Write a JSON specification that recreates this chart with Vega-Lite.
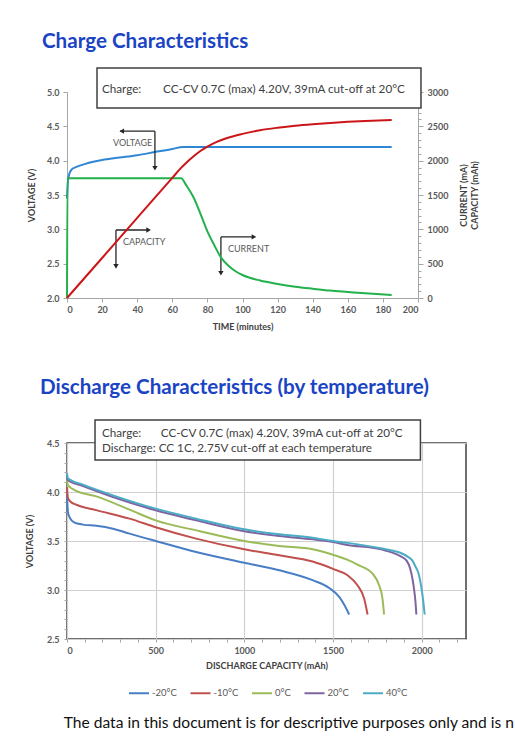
{
  "$schema": "https://vega.github.io/schema/vega-lite/v6.json",
  "padding": {"left": 24, "top": 31, "right": 0, "bottom": 0},
  "spacing": 45,
  "resolve": {"scale": {"color": "independent"}, "legend": {"color": "independent"}},
  "config": {
    "font": "Lato",
    "view": {"stroke": null},
    "axis": {"labelFont": "Lato", "titleFont": "Lato", "labelOverlap": false, "tickCount": 100}
  },
  "title": {
    "text": "The data in this document is for descriptive purposes only and is n",
    "orient": "bottom",
    "anchor": "start",
    "frame": "bounds",
    "dx": 39,
    "offset": 17,
    "fontSize": 15.6,
    "fontWeight": "normal",
    "color": "#111111"
  },
  "datasets": {
    "voltage": [
      {"series": "VOLTAGE", "t": 0, "v": 3.45},
      {"series": "VOLTAGE", "t": 0.5, "v": 3.7},
      {"series": "VOLTAGE", "t": 1.5, "v": 3.82},
      {"series": "VOLTAGE", "t": 3, "v": 3.88},
      {"series": "VOLTAGE", "t": 5, "v": 3.905},
      {"series": "VOLTAGE", "t": 10, "v": 3.95},
      {"series": "VOLTAGE", "t": 15, "v": 3.985},
      {"series": "VOLTAGE", "t": 20, "v": 4.01},
      {"series": "VOLTAGE", "t": 30, "v": 4.045},
      {"series": "VOLTAGE", "t": 40, "v": 4.08},
      {"series": "VOLTAGE", "t": 50, "v": 4.125},
      {"series": "VOLTAGE", "t": 60, "v": 4.17},
      {"series": "VOLTAGE", "t": 66, "v": 4.2},
      {"series": "VOLTAGE", "t": 185, "v": 4.2}
    ],
    "chargeMA": [
      {"series": "CURRENT", "t": 0, "mA": 0},
      {"series": "CURRENT", "t": 0.3, "mA": 1745},
      {"series": "CURRENT", "t": 65, "mA": 1745},
      {"series": "CURRENT", "t": 68, "mA": 1640},
      {"series": "CURRENT", "t": 72, "mA": 1470},
      {"series": "CURRENT", "t": 76, "mA": 1230},
      {"series": "CURRENT", "t": 80, "mA": 970},
      {"series": "CURRENT", "t": 84, "mA": 765},
      {"series": "CURRENT", "t": 88, "mA": 580},
      {"series": "CURRENT", "t": 92, "mA": 470},
      {"series": "CURRENT", "t": 96, "mA": 390},
      {"series": "CURRENT", "t": 100, "mA": 335},
      {"series": "CURRENT", "t": 110, "mA": 255},
      {"series": "CURRENT", "t": 120, "mA": 205},
      {"series": "CURRENT", "t": 130, "mA": 165},
      {"series": "CURRENT", "t": 140, "mA": 135},
      {"series": "CURRENT", "t": 150, "mA": 108},
      {"series": "CURRENT", "t": 160, "mA": 88},
      {"series": "CURRENT", "t": 170, "mA": 68},
      {"series": "CURRENT", "t": 185, "mA": 44},
      {"series": "CAPACITY", "t": 0, "mA": 0},
      {"series": "CAPACITY", "t": 20, "mA": 583},
      {"series": "CAPACITY", "t": 40, "mA": 1167},
      {"series": "CAPACITY", "t": 60, "mA": 1750},
      {"series": "CAPACITY", "t": 65, "mA": 1895},
      {"series": "CAPACITY", "t": 68, "mA": 1970},
      {"series": "CAPACITY", "t": 72, "mA": 2060},
      {"series": "CAPACITY", "t": 76, "mA": 2140},
      {"series": "CAPACITY", "t": 80, "mA": 2205},
      {"series": "CAPACITY", "t": 85, "mA": 2270},
      {"series": "CAPACITY", "t": 90, "mA": 2320},
      {"series": "CAPACITY", "t": 100, "mA": 2390},
      {"series": "CAPACITY", "t": 110, "mA": 2443},
      {"series": "CAPACITY", "t": 120, "mA": 2480},
      {"series": "CAPACITY", "t": 130, "mA": 2510},
      {"series": "CAPACITY", "t": 140, "mA": 2532},
      {"series": "CAPACITY", "t": 150, "mA": 2550},
      {"series": "CAPACITY", "t": 160, "mA": 2565},
      {"series": "CAPACITY", "t": 170, "mA": 2578},
      {"series": "CAPACITY", "t": 185, "mA": 2592}
    ],
    "box1": [{"t": 17.1, "t2": 201.7, "v": 5.35, "v2": 4.767}],
    "box1text": [
      {"t": 19.9, "v": 5.05, "label": "Charge:"},
      {"t": 54.7, "v": 5.05, "label": "CC-CV 0.7C (max) 4.20V, 39mA cut-off at 20°C"}
    ],
    "arrows1": [
      {"t": 30.2, "t2": 50.1, "v": 4.43, "v2": 4.43},
      {"t": 50.1, "t2": 50.1, "v": 4.43, "v2": 3.88},
      {"t": 27.9, "t2": 46.5, "v": 2.99, "v2": 2.99},
      {"t": 27.9, "t2": 27.9, "v": 2.99, "v2": 2.45},
      {"t": 87.7, "t2": 106.5, "v": 2.89, "v2": 2.89},
      {"t": 87.7, "t2": 87.7, "v": 2.89, "v2": 2.35}
    ],
    "heads1": [
      {"t": 31.2, "v": 4.43, "dir": "left"},
      {"t": 50.1, "v": 3.89, "dir": "down"},
      {"t": 46.5, "v": 2.99, "dir": "right"},
      {"t": 27.9, "v": 2.46, "dir": "down"},
      {"t": 106.5, "v": 2.89, "dir": "right"},
      {"t": 87.7, "v": 2.36, "dir": "down"}
    ],
    "labels1": [
      {"t": 26.2, "v": 4.26, "label": "VOLTAGE"},
      {"t": 31.9, "v": 2.81, "label": "CAPACITY"},
      {"t": 91.7, "v": 2.71, "label": "CURRENT"}
    ],
    "discharge": [
      {"temp": "-20°C", "cap": 0, "volt": 3.98},
      {"temp": "-20°C", "cap": 5, "volt": 3.8},
      {"temp": "-20°C", "cap": 15, "volt": 3.74},
      {"temp": "-20°C", "cap": 40, "volt": 3.69},
      {"temp": "-20°C", "cap": 90, "volt": 3.667},
      {"temp": "-20°C", "cap": 165, "volt": 3.655},
      {"temp": "-20°C", "cap": 259, "volt": 3.626},
      {"temp": "-20°C", "cap": 353, "volt": 3.575},
      {"temp": "-20°C", "cap": 500, "volt": 3.5},
      {"temp": "-20°C", "cap": 728, "volt": 3.388},
      {"temp": "-20°C", "cap": 1000, "volt": 3.279},
      {"temp": "-20°C", "cap": 1197, "volt": 3.201},
      {"temp": "-20°C", "cap": 1385, "volt": 3.1},
      {"temp": "-20°C", "cap": 1479, "volt": 3.02},
      {"temp": "-20°C", "cap": 1535, "volt": 2.93},
      {"temp": "-20°C", "cap": 1565, "volt": 2.845},
      {"temp": "-20°C", "cap": 1591, "volt": 2.75},
      {"temp": "-10°C", "cap": 0, "volt": 4.05},
      {"temp": "-10°C", "cap": 5, "volt": 3.94},
      {"temp": "-10°C", "cap": 20, "volt": 3.9},
      {"temp": "-10°C", "cap": 53, "volt": 3.87},
      {"temp": "-10°C", "cap": 165, "volt": 3.815},
      {"temp": "-10°C", "cap": 353, "volt": 3.728},
      {"temp": "-10°C", "cap": 500, "volt": 3.64},
      {"temp": "-10°C", "cap": 728, "volt": 3.524},
      {"temp": "-10°C", "cap": 1000, "volt": 3.415},
      {"temp": "-10°C", "cap": 1197, "volt": 3.354},
      {"temp": "-10°C", "cap": 1385, "volt": 3.29},
      {"temp": "-10°C", "cap": 1500, "volt": 3.215},
      {"temp": "-10°C", "cap": 1582, "volt": 3.15},
      {"temp": "-10°C", "cap": 1638, "volt": 3.048},
      {"temp": "-10°C", "cap": 1676, "volt": 2.911},
      {"temp": "-10°C", "cap": 1695, "volt": 2.75},
      {"temp": "0°C", "cap": 0, "volt": 4.12},
      {"temp": "0°C", "cap": 5, "volt": 4.07},
      {"temp": "0°C", "cap": 43, "volt": 4.02},
      {"temp": "0°C", "cap": 165, "volt": 3.955},
      {"temp": "0°C", "cap": 353, "volt": 3.82},
      {"temp": "0°C", "cap": 500, "volt": 3.71},
      {"temp": "0°C", "cap": 750, "volt": 3.6},
      {"temp": "0°C", "cap": 1000, "volt": 3.5},
      {"temp": "0°C", "cap": 1197, "volt": 3.449},
      {"temp": "0°C", "cap": 1385, "volt": 3.415},
      {"temp": "0°C", "cap": 1500, "volt": 3.36},
      {"temp": "0°C", "cap": 1580, "volt": 3.31},
      {"temp": "0°C", "cap": 1638, "volt": 3.259},
      {"temp": "0°C", "cap": 1723, "volt": 3.167},
      {"temp": "0°C", "cap": 1760, "volt": 3.048},
      {"temp": "0°C", "cap": 1779, "volt": 2.911},
      {"temp": "0°C", "cap": 1788, "volt": 2.75},
      {"temp": "20°C", "cap": 0, "volt": 4.15},
      {"temp": "20°C", "cap": 5, "volt": 4.12},
      {"temp": "20°C", "cap": 90, "volt": 4.061},
      {"temp": "20°C", "cap": 259, "volt": 3.949},
      {"temp": "20°C", "cap": 500, "volt": 3.813},
      {"temp": "20°C", "cap": 728, "volt": 3.711},
      {"temp": "20°C", "cap": 1000, "volt": 3.599},
      {"temp": "20°C", "cap": 1197, "volt": 3.551},
      {"temp": "20°C", "cap": 1385, "volt": 3.517},
      {"temp": "20°C", "cap": 1500, "volt": 3.49},
      {"temp": "20°C", "cap": 1573, "volt": 3.462},
      {"temp": "20°C", "cap": 1770, "volt": 3.415},
      {"temp": "20°C", "cap": 1880, "volt": 3.345},
      {"temp": "20°C", "cap": 1915, "volt": 3.3},
      {"temp": "20°C", "cap": 1935, "volt": 3.22},
      {"temp": "20°C", "cap": 1948, "volt": 3.115},
      {"temp": "20°C", "cap": 1957, "volt": 3.01},
      {"temp": "20°C", "cap": 1965, "volt": 2.88},
      {"temp": "20°C", "cap": 1970, "volt": 2.75},
      {"temp": "40°C", "cap": 0, "volt": 4.19},
      {"temp": "40°C", "cap": 5, "volt": 4.14},
      {"temp": "40°C", "cap": 90, "volt": 4.075},
      {"temp": "40°C", "cap": 259, "volt": 3.966},
      {"temp": "40°C", "cap": 500, "volt": 3.83},
      {"temp": "40°C", "cap": 728, "volt": 3.728},
      {"temp": "40°C", "cap": 1000, "volt": 3.619},
      {"temp": "40°C", "cap": 1197, "volt": 3.568},
      {"temp": "40°C", "cap": 1385, "volt": 3.534},
      {"temp": "40°C", "cap": 1500, "volt": 3.5},
      {"temp": "40°C", "cap": 1573, "volt": 3.483},
      {"temp": "40°C", "cap": 1770, "volt": 3.425},
      {"temp": "40°C", "cap": 1892, "volt": 3.37},
      {"temp": "40°C", "cap": 1925, "volt": 3.335},
      {"temp": "40°C", "cap": 1948, "volt": 3.3},
      {"temp": "40°C", "cap": 1962, "volt": 3.25},
      {"temp": "40°C", "cap": 1982, "volt": 3.17},
      {"temp": "40°C", "cap": 1998, "volt": 3.03},
      {"temp": "40°C", "cap": 2008, "volt": 2.9},
      {"temp": "40°C", "cap": 2017, "volt": 2.75}
    ],
    "box2": [{"cap": 158, "cap2": 1993, "volt": 4.735, "volt2": 4.327}],
    "box2text": [
      {"cap": 197, "volt": 4.602, "label": "Charge:"},
      {"cap": 529, "volt": 4.602, "label": "CC-CV 0.7C (max) 4.20V, 39mA cut-off at 20°C"},
      {"cap": 197, "volt": 4.449, "label": "Discharge: CC 1C, 2.75V cut-off at each temperature"}
    ]
  },
  "vconcat": [
    {
      "width": 351,
      "height": 206,
      "title": {
        "text": "Charge Characteristics",
        "anchor": "start",
        "frame": "group",
        "dx": -25,
        "offset": 15,
        "fontSize": 20.6,
        "fontWeight": "bold",
        "color": "#1A44C4"
      },
      "layer": [
        {
          "layer": [
            {
              "data": {"name": "voltage"},
              "mark": {"type": "line", "strokeWidth": 2, "interpolate": "monotone"},
              "encoding": {
                "x": {
                  "field": "t", "type": "quantitative",
                  "scale": {"domain": [0, 200], "nice": false, "zero": false},
                  "axis": {
                    "title": "TIME (minutes)",
                    "values": [0, 20, 40, 60, 80, 100, 120, 140, 160, 180, 200],
                    "grid": false,
                    "domainColor": "#a6a6a6", "tickColor": "#a6a6a6", "tickSize": 4,
                    "labelFontSize": 9, "labelFontWeight": "bold", "labelColor": "#595959",
                    "labelPadding": 3,
                    "titleFontSize": 9, "titleFontWeight": "bold", "titleColor": "#404040",
                    "titlePadding": 8
                  }
                },
                "y": {
                  "field": "v", "type": "quantitative",
                  "scale": {"domain": [2, 5], "nice": false, "zero": false},
                  "axis": {
                    "title": "VOLTAGE (V)",
                    "values": [2, 2.5, 3, 3.5, 4, 4.5, 5],
                    "format": ".1f",
                    "grid": false,
                    "domainColor": "#a6a6a6", "tickColor": "#a6a6a6", "tickSize": 4,
                    "labelFontSize": 9, "labelFontWeight": "bold", "labelColor": "#595959",
                    "labelPadding": 4,
                    "titleFontSize": 9, "titleFontWeight": "bold", "titleColor": "#404040",
                    "titlePadding": 10
                  }
                },
                "color": {
                  "field": "series", "type": "nominal",
                  "scale": {"domain": ["VOLTAGE", "CURRENT", "CAPACITY"], "range": ["#2F86D4", "#22B14C", "#CC1518"]},
                  "legend": null
                }
              }
            },
            {
              "data": {"name": "box1"},
              "mark": {"type": "rect", "fill": "#7f7f7f", "opacity": 0.35, "xOffset": 3, "yOffset": 3},
              "encoding": {
                "x": {"field": "t", "type": "quantitative"},
                "x2": {"field": "t2"},
                "y": {"field": "v", "type": "quantitative"},
                "y2": {"field": "v2"}
              }
            },
            {
              "data": {"name": "box1"},
              "mark": {"type": "rect", "fill": "white", "stroke": "#404040", "strokeWidth": 1.5},
              "encoding": {
                "x": {"field": "t", "type": "quantitative"},
                "x2": {"field": "t2"},
                "y": {"field": "v", "type": "quantitative"},
                "y2": {"field": "v2"}
              }
            },
            {
              "data": {"name": "box1text"},
              "mark": {"type": "text", "align": "left", "baseline": "middle", "fontSize": 11.7, "color": "#404040"},
              "encoding": {
                "x": {"field": "t", "type": "quantitative"},
                "y": {"field": "v", "type": "quantitative"},
                "text": {"field": "label"}
              }
            },
            {
              "data": {"name": "arrows1"},
              "mark": {"type": "rule", "color": "#262626", "strokeWidth": 1.3},
              "encoding": {
                "x": {"field": "t", "type": "quantitative"},
                "x2": {"field": "t2"},
                "y": {"field": "v", "type": "quantitative"},
                "y2": {"field": "v2"}
              }
            },
            {
              "data": {"name": "heads1"},
              "mark": {"type": "point", "filled": true, "color": "#262626", "size": 28, "opacity": 1},
              "encoding": {
                "x": {"field": "t", "type": "quantitative"},
                "y": {"field": "v", "type": "quantitative"},
                "shape": {
                  "field": "dir", "type": "nominal",
                  "scale": {"domain": ["left", "right", "down"], "range": ["triangle-left", "triangle-right", "triangle-down"]},
                  "legend": null
                }
              }
            },
            {
              "data": {"name": "labels1"},
              "mark": {"type": "text", "align": "left", "baseline": "middle", "fontSize": 9, "color": "#595959"},
              "encoding": {
                "x": {"field": "t", "type": "quantitative"},
                "y": {"field": "v", "type": "quantitative"},
                "text": {"field": "label"}
              }
            }
          ]
        },
        {
          "data": {"name": "chargeMA"},
          "mark": {"type": "line", "strokeWidth": 2, "interpolate": "monotone"},
          "encoding": {
            "x": {"field": "t", "type": "quantitative"},
            "y": {
              "field": "mA", "type": "quantitative",
              "scale": {"domain": [0, 3000], "nice": false},
              "axis": {
                "orient": "right",
                "title": ["CURRENT (mA)", "CAPACITY (mAh)"],
                "titleAngle": 270,
                "values": [0, 100, 200, 300, 400, 500, 600, 700, 800, 900, 1000, 1100, 1200, 1300, 1400, 1500, 1600, 1700, 1800, 1900, 2000, 2100, 2200, 2300, 2400, 2500, 2600, 2700, 2800, 2900, 3000],
                "labelExpr": "datum.value % 500 === 0 ? datum.label : ''",
                "format": "d",
                "grid": false,
                "domainColor": "#a6a6a6", "tickColor": "#a6a6a6",
                "tickSize": {"condition": {"test": "datum.value % 500 === 0", "value": 5}, "value": 3},
                "labelFontSize": 9, "labelFontWeight": "bold", "labelColor": "#595959",
                "labelPadding": 4,
                "titleFontSize": 9, "titleFontWeight": "bold", "titleColor": "#404040",
                "titlePadding": 10
              }
            },
            "color": {"field": "series", "type": "nominal", "legend": null},
            "detail": {"field": "series"}
          }
        }
      ],
      "resolve": {"scale": {"y": "independent"}}
    },
    {
      "width": 399,
      "height": 196,
      "view": {"stroke": "#404040", "strokeWidth": 1.5},
      "title": {
        "text": "Discharge Characteristics (by temperature)",
        "anchor": "start",
        "frame": "group",
        "dx": -27,
        "offset": 21,
        "fontSize": 20.6,
        "fontWeight": "bold",
        "color": "#1A44C4"
      },
      "layer": [
        {
          "data": {"name": "discharge"},
          "mark": {"type": "line", "strokeWidth": 2, "interpolate": "monotone"},
          "encoding": {
            "x": {
              "field": "cap", "type": "quantitative",
              "scale": {"domain": [0, 2250], "nice": false, "zero": false},
              "axis": {
                "title": "DISCHARGE CAPACITY (mAh)",
                "values": [0, 100, 200, 300, 400, 500, 600, 700, 800, 900, 1000, 1100, 1200, 1300, 1400, 1500, 1600, 1700, 1800, 1900, 2000, 2100, 2200],
                "labelExpr": "datum.value % 500 === 0 ? datum.label : ''",
                "format": "d",
                "grid": true,
                "gridColor": "#d0d0d0",
                "gridWidth": 1.2,
                "gridOpacity": {"condition": {"test": "datum.value % 500 === 0", "value": 1}, "value": 0},
                "domain": false,
                "tickColor": "#a6a6a6", "tickSize": 3,
                "labelFontSize": 9, "labelFontWeight": "bold", "labelColor": "#595959",
                "labelPadding": 4,
                "titleFontSize": 9, "titleFontWeight": "bold", "titleColor": "#404040",
                "titlePadding": 6
              }
            },
            "y": {
              "field": "volt", "type": "quantitative",
              "scale": {"domain": [2.5, 4.5], "nice": false, "zero": false},
              "axis": {
                "title": "VOLTAGE (V)",
                "values": [2.5, 2.6, 2.7, 2.8, 2.9, 3, 3.1, 3.2, 3.3, 3.4, 3.5, 3.6, 3.7, 3.8, 3.9, 4, 4.1, 4.2, 4.3, 4.4, 4.5],
                "labelExpr": "abs(datum.value * 2 - round(datum.value * 2)) < 0.001 ? format(datum.value, '.1f') : ''",
                "grid": true,
                "gridColor": "#d0d0d0",
                "gridWidth": 1.2,
                "gridOpacity": {"condition": {"test": "abs(datum.value * 2 - round(datum.value * 2)) < 0.001", "value": 1}, "value": 0},
                "domain": false,
                "tickColor": "#a6a6a6", "tickSize": 3,
                "labelFontSize": 9, "labelFontWeight": "bold", "labelColor": "#595959",
                "labelPadding": 5,
                "titleFontSize": 9, "titleFontWeight": "bold", "titleColor": "#404040",
                "titlePadding": 12
              }
            },
            "color": {
              "field": "temp", "type": "nominal",
              "scale": {"domain": ["-20°C", "-10°C", "0°C", "20°C", "40°C"], "range": ["#4A7EC4", "#C0504D", "#9BBB59", "#8064A2", "#4BACC6"]},
              "legend": {
                "orient": "none",
                "legendX": 61,
                "legendY": 239,
                "direction": "horizontal",
                "title": null,
                "symbolType": "stroke",
                "symbolStrokeWidth": 2,
                "symbolSize": 400,
                "labelFontSize": 9.5,
                "labelColor": "#595959",
                "labelOffset": 2,
                "columnPadding": 9.5
              }
            }
          }
        },
        {
          "data": {"name": "box2"},
          "mark": {"type": "rect", "fill": "#7f7f7f", "opacity": 0.35, "xOffset": 3, "yOffset": 3},
          "encoding": {
            "x": {"field": "cap", "type": "quantitative"},
            "x2": {"field": "cap2"},
            "y": {"field": "volt", "type": "quantitative"},
            "y2": {"field": "volt2"}
          }
        },
        {
          "data": {"name": "box2"},
          "mark": {"type": "rect", "fill": "white", "stroke": "#404040", "strokeWidth": 1.5},
          "encoding": {
            "x": {"field": "cap", "type": "quantitative"},
            "x2": {"field": "cap2"},
            "y": {"field": "volt", "type": "quantitative"},
            "y2": {"field": "volt2"}
          }
        },
        {
          "data": {"name": "box2text"},
          "mark": {"type": "text", "align": "left", "baseline": "middle", "fontSize": 11.7, "color": "#404040"},
          "encoding": {
            "x": {"field": "cap", "type": "quantitative"},
            "y": {"field": "volt", "type": "quantitative"},
            "text": {"field": "label"}
          }
        }
      ]
    }
  ]
}
